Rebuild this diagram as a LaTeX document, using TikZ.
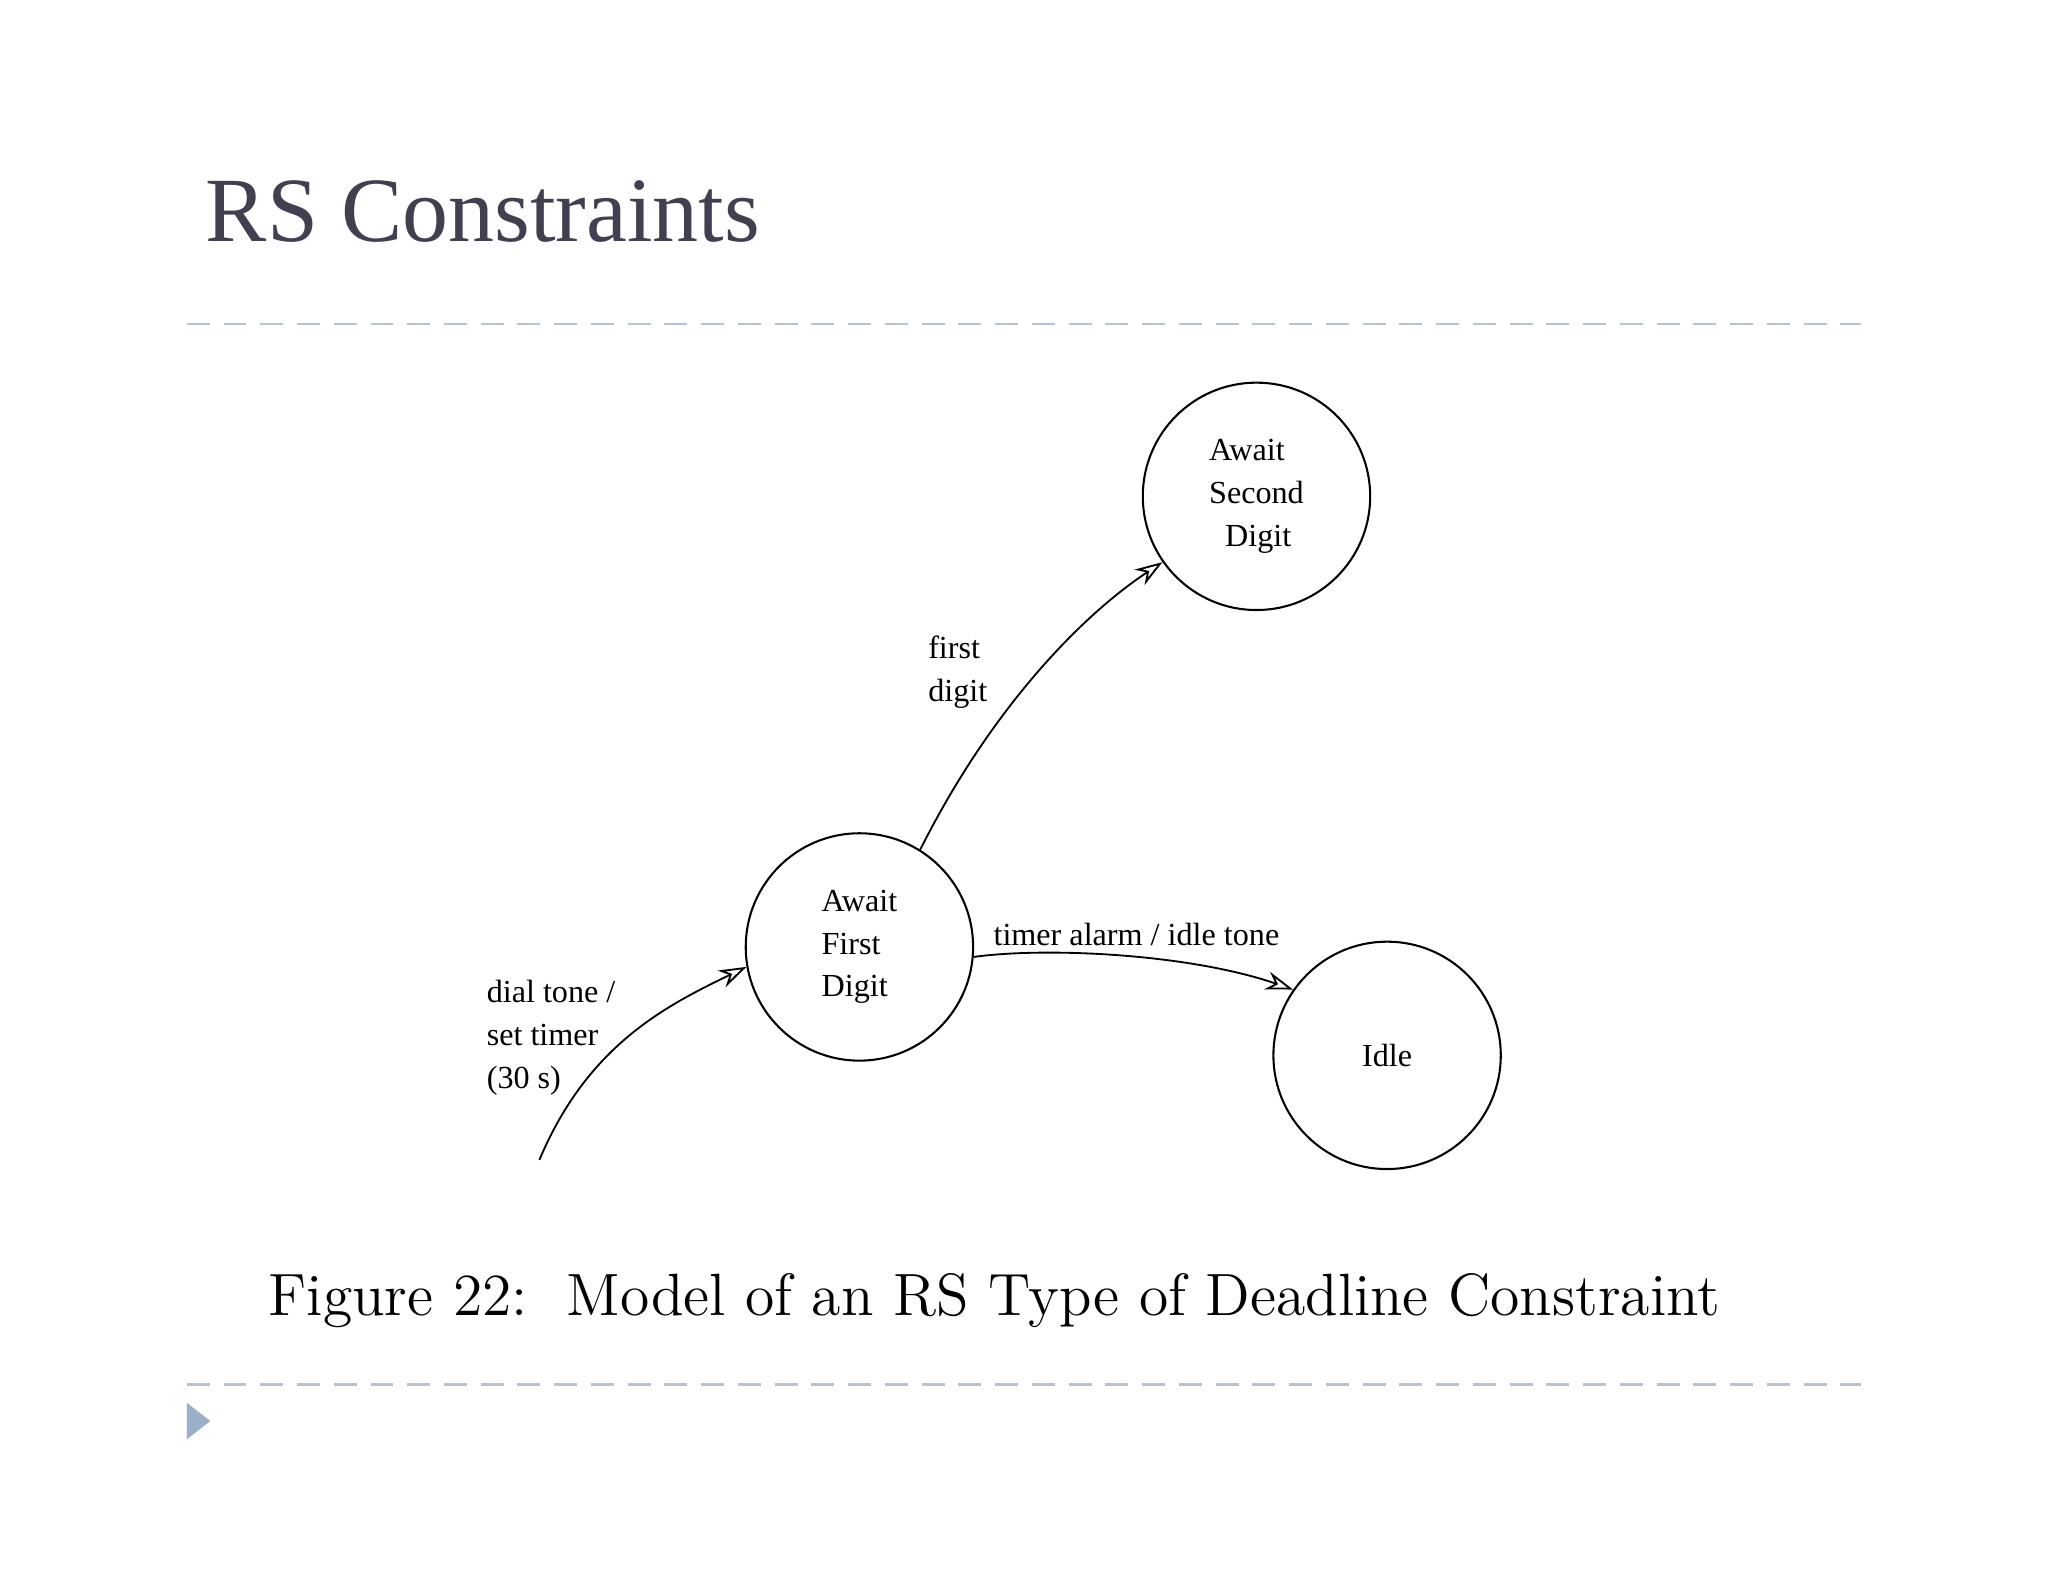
\documentclass[tikz,border=0pt]{standalone}
\usepackage{fontspec}
\newfontfamily\tms{Liberation Serif}
\usetikzlibrary{arrows.meta}
\definecolor{titlec}{HTML}{404050}
\definecolor{dashc}{HTML}{B4C4D0}
\definecolor{tric}{HTML}{9AAFC8}
\begin{document}
\begin{tikzpicture}[x=0.01cm,y=-0.01cm,
  state/.style={draw,circle,minimum size=1.74cm,inner sep=0pt,line width=0.45pt,font=\tms\fontsize{7}{9.3}\selectfont,align=left},
  lbl/.style={font=\tms\fontsize{7}{9.3}\selectfont,align=left,inner sep=0pt,anchor=north west},
  tr/.style={-{Stealth[length=6pt,width=4pt,open]},line width=0.4pt},
  sep/.style={dashc,dash pattern=on 5pt off 3pt,line width=0.5pt}]
\useasboundingbox (0,0) rectangle (1568,1211);
\node[anchor=west,font=\tms\fontsize{20}{23}\selectfont,text=titlec,inner sep=0pt] (title) at (157,162) {RS Constraints};
\draw[sep] (143,248) -- (1425,248);
\draw[sep] (143,1060) -- (1425,1060);
\fill[tric] (143,1074) -- (161,1088) -- (143,1102) -- cycle;
\node[state] (s2) at (962,380) {Await\\Second\\\ \ Digit};
\node[state] (s1) at (658,725) {Await\\First\\Digit};
\node[state] (idle) at (1062,808) {Idle};
\coordinate (start) at (413,888);
\draw[tr] (start) .. controls (450,800) and (510,770) .. (s1.190);
\draw[tr] (s1.58) .. controls (760,540) and (830,470) .. (s2.215);
\draw[tr] (s1.-5) .. controls (800,725) and (910,730) .. (idle.145);
\node[lbl] (l1) at (372,750) {dial tone /\\set timer\\(30 s)};
\node[lbl] (l2) at (710,486) {first\\digit};
\node[lbl] (l3) at (760,706) {timer alarm / idle tone};
\node[anchor=west,inner sep=0pt,font=\fontsize{13}{16}\selectfont] (cap) at (205,996) {Figure 22:\ \ Model of an RS Type of Deadline Constraint};
\end{tikzpicture}
\end{document}
